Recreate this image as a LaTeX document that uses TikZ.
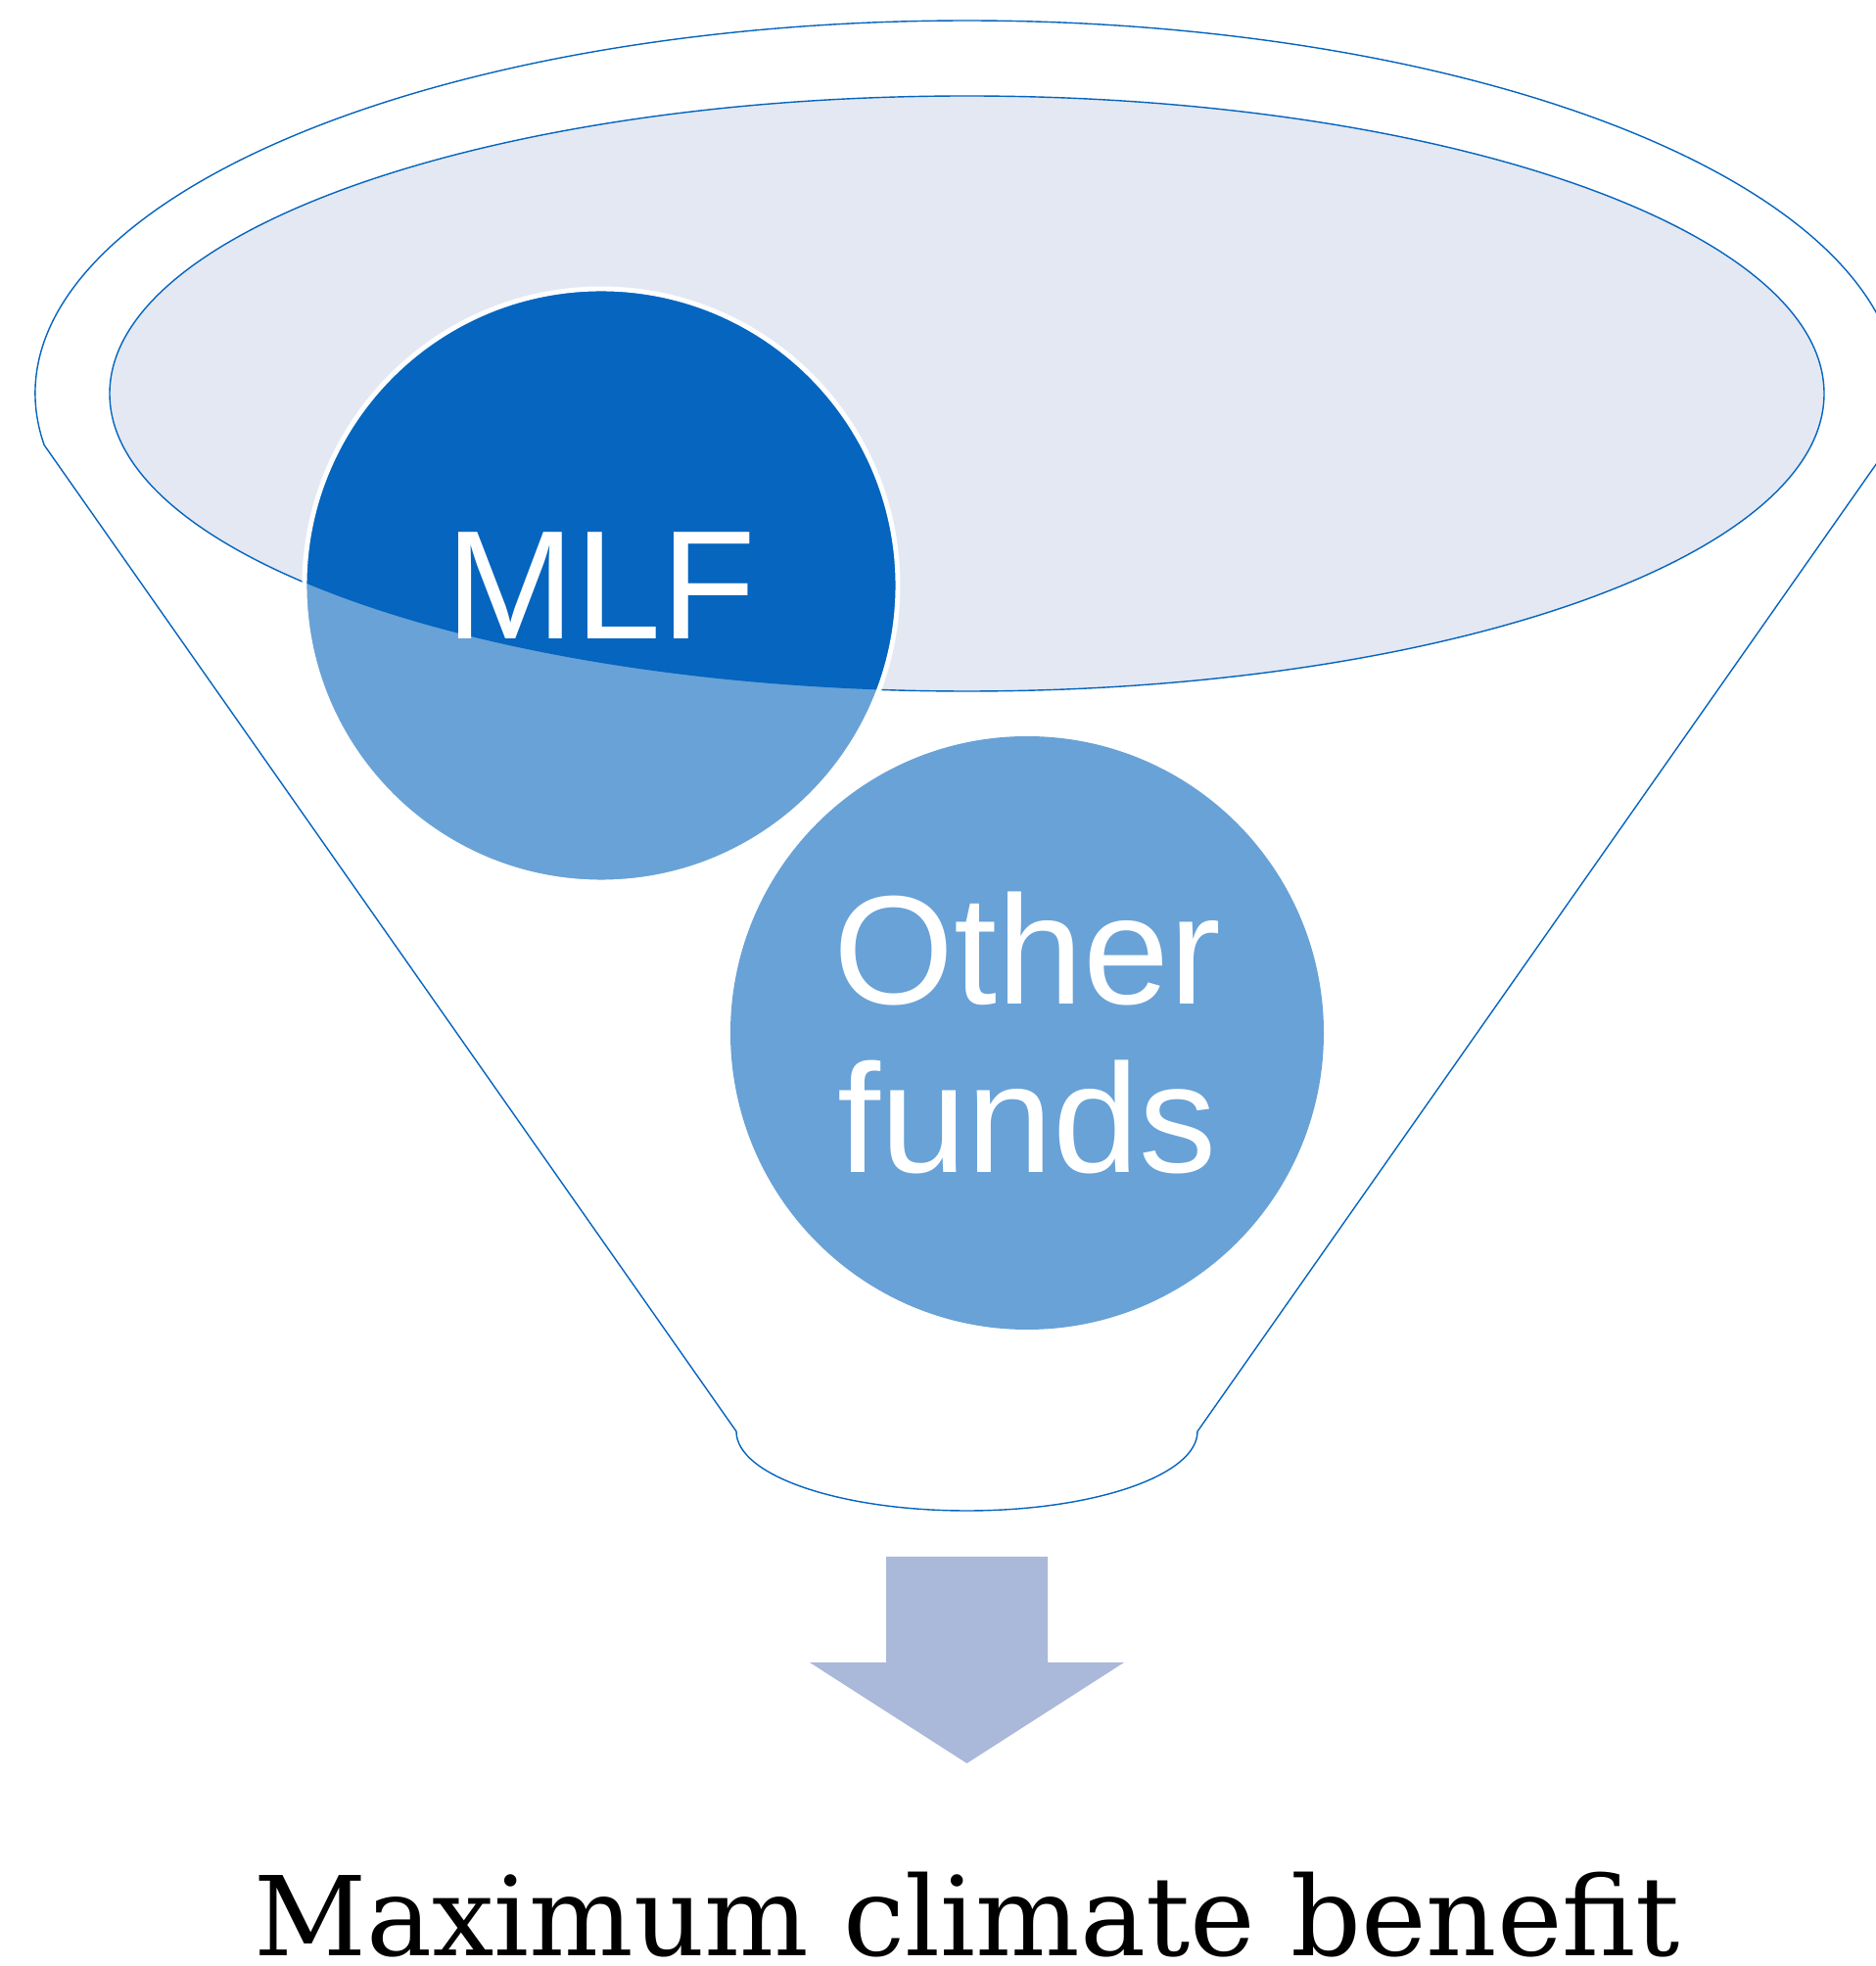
\documentclass[tikz,border=0pt]{standalone}
\usepackage{fontspec}
\setmainfont{DejaVu Serif}
\setsansfont{Liberation Sans}
\definecolor{fundblue}{HTML}{0565BF}
\definecolor{lightfund}{HTML}{68A2D7}
\definecolor{rimfill}{HTML}{E3E8F3}
\definecolor{arrowfill}{HTML}{AAB8DA}
\begin{document}
\begin{tikzpicture}[
    edge/.style={draw=fundblue, line width=0.4pt},
    fund/.style={circle, minimum size=6.06cm, inner sep=0pt, fill=lightfund},
    fundtext/.style={text=white, align=center, font=\sffamily\fontsize{45}{49}\selectfont}
  ]
    \useasboundingbox (0, 0) rectangle (19.16, 20.08);
    % funnel
    \draw[edge, fill=white] (0.451, 15.535) arc[start angle=187.92, end angle=-7.92, x radius=9.515, y radius=3.81]
      -- (12.23, 5.46) arc[start angle=0, end angle=-180, x radius=2.355, y radius=0.81] -- cycle;
    \draw[edge, fill=rimfill] (9.875, 16.06) ellipse [x radius=8.755, y radius=3.04];
    % funds
    \node[fund] (mlf) at (6.14, 14.10) {};
    \begin{scope}
      \clip (9.875, 16.06) ellipse [x radius=8.755, y radius=3.04];
      \fill[fundblue] (mlf.center) circle (3.03);
    \end{scope}
    \draw[white, line width=1.4pt] (mlf.center) circle (3.03);
    \node[fundtext] (mlflabel) at (mlf.center) {MLF};
    \node[fund, fundtext] (other) at (10.49, 9.53) {Other\\funds};
    % arrow
    \fill[arrowfill] (9.05, 4.18) -- (10.70, 4.18) -- (10.70, 3.10) -- (11.48, 3.10) -- (9.875, 2.07)
      -- (8.27, 3.10) -- (9.05, 3.10) -- cycle;
    \node[anchor=base, font=\fontsize{32}{38}\selectfont] (benefit) at (9.875, 0.10) {Maximum climate benefit};
  \end{tikzpicture}
\end{document}
